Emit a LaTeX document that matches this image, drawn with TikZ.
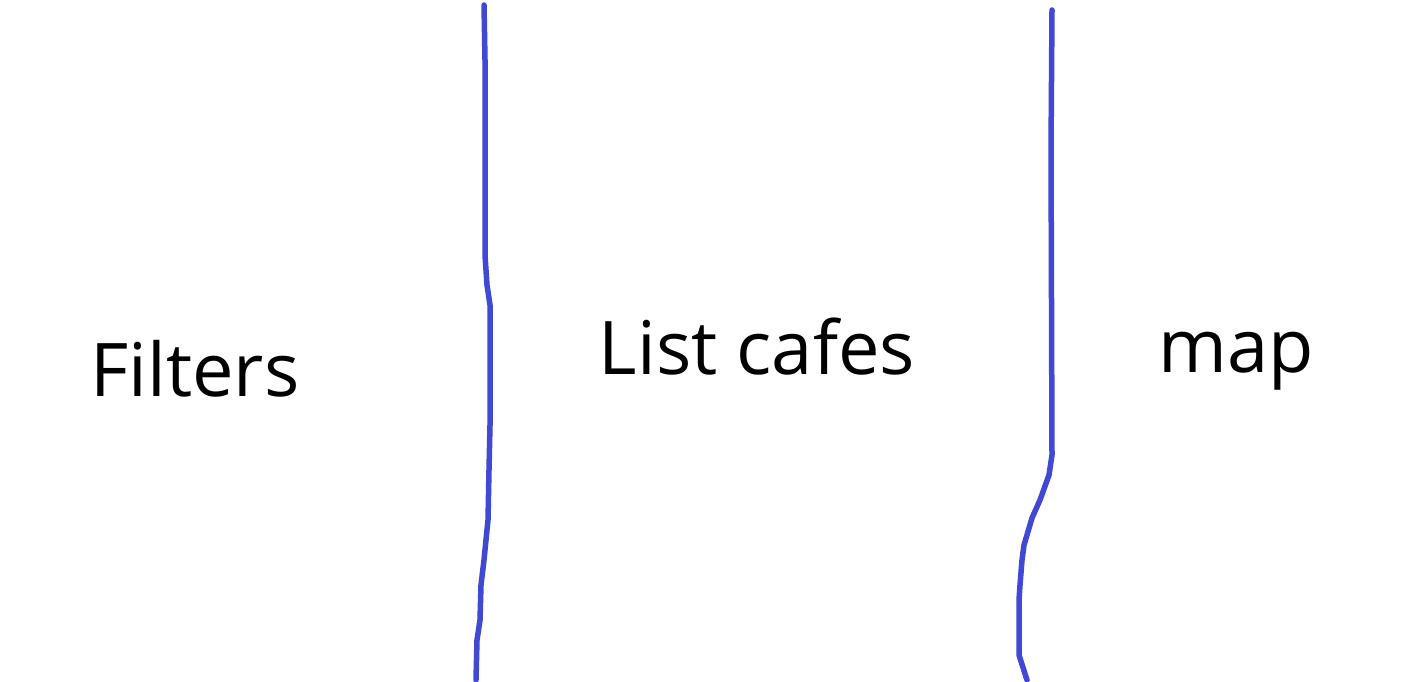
\documentclass[tikz,border=0pt]{standalone}
\usepackage{fontspec}
\setmainfont{Open Sans}
\begin{document}
\begin{tikzpicture}[x=1pt,y=-1pt,
  pen/.style={draw={rgb,255:red,64;green,72;blue,212},line width=5.5pt,line cap=round,line join=round},
  lbl/.style={font=\fontsize{74}{90}\selectfont,text=black,inner sep=0pt,anchor=base}]
\useasboundingbox[fill=white] (0,0) rectangle (1416,682);
\coordinate (a0) at (484,5);
\coordinate (a1) at (476,680);
\draw[pen] (a0) -- (485,60) -- (485,255) -- (487,285) -- (490,305) -- (490,425) -- (489,470) -- (488,520) -- (484,560) -- (481,585) -- (480,620) -- (477,640) -- (a1);
\coordinate (b0) at (1052,10);
\coordinate (b1) at (1027,680);
\draw[pen] (b0) -- (1051,150) -- (1052,455) -- (1049,475) -- (1040,500) -- (1032,518) -- (1024,545) -- (1022,560) -- (1020,585) -- (1019,600) -- (1019,655) -- (b1);
\node[lbl] (filters) at (195,396) {Filters};
\node[lbl] (list) at (757,374) {List cafes};
\node[lbl] (map) at (1236,372) {map};
\end{tikzpicture}
\end{document}
